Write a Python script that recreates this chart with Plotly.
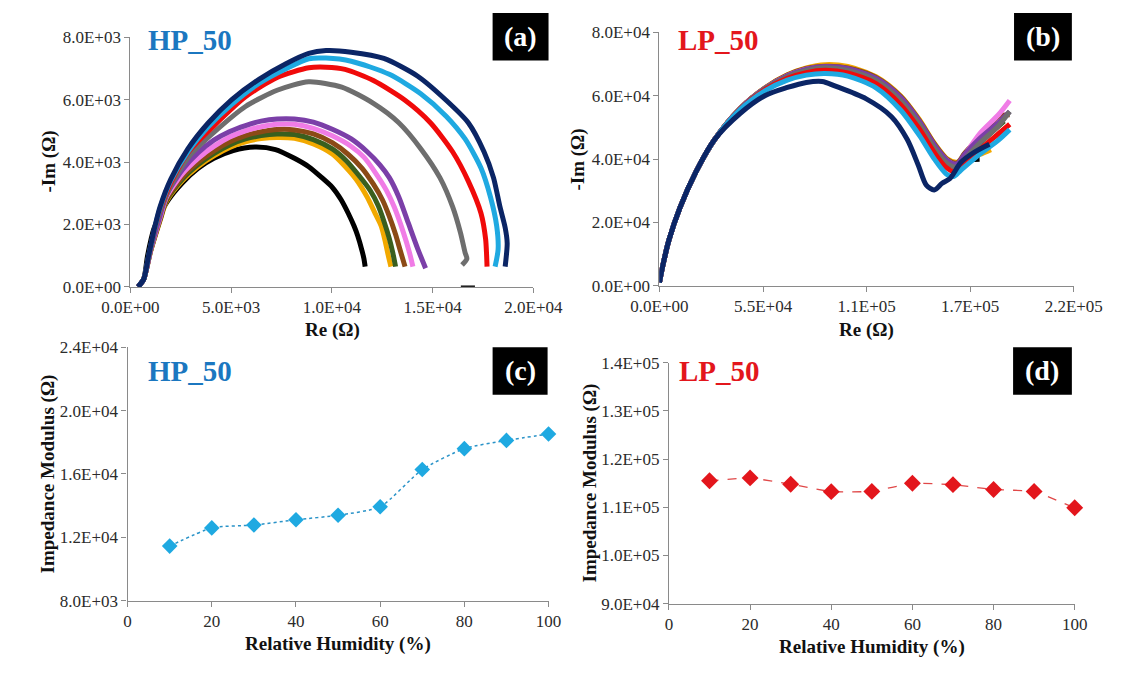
import plotly.graph_objects as go

W, H = 1136, 673

# ---------------- data ----------------
rh_levels = [10, 20, 30, 40, 50, 60, 70, 80, 90, 100]
series_colors = ["#000000", "#F2A900", "#3A5F1E", "#8B4A16", "#F07CE6",
                 "#7B3FA8", "#6E6E6E", "#F00A0A", "#1FA9E1", "#0B2565"]

# (a) HP_50 Nyquist curves, Re / -Im in ohm
hp_re = {
    10: [380, 660, 850, 1160, 1790, 2570, 3360, 4140, 5100, 6180, 7200, 8140, 8850, 9500, 10020, 10450,
         10810, 11100, 11280, 11500, 11590, 11650],
    20: [380, 660, 1000, 1470, 1790, 2570, 3360, 4140, 4930, 5710, 6490, 7280, 8140, 9080, 10020, 10600,
         11200, 11750, 12150, 12450, 12650, 12800, 12930],
    30: [380, 660, 1000, 1470, 1790, 2570, 3360, 4140, 4930, 5710, 6490, 7280, 8140, 9080, 10020, 10700,
         11300, 11910, 12300, 12610, 12850, 13020, 13160],
    40: [380, 660, 1000, 1470, 1790, 2570, 3360, 4140, 4930, 5710, 6490, 7280, 8140, 9080, 10020, 10800,
         11500, 12060, 12500, 12850, 13150, 13400, 13630],
    50: [380, 660, 1000, 1470, 1790, 2570, 3360, 4140, 4930, 5710, 6490, 7280, 8140, 9080, 10020, 10960,
         11600, 12220, 12700, 13100, 13550, 13850, 14020],
    60: [380, 660, 1000, 1470, 1790, 2570, 3360, 4140, 4930, 5710, 6490, 7280, 8140, 9080, 10020, 10960,
         11750, 12380, 12850, 13320, 13790, 14260, 14650],
    70: [380, 660, 900, 1200, 1470, 2100, 3000, 4140, 5710, 7280, 8850, 10490, 12060, 13320, 14410, 15360,
         15990, 16380, 16610, 16700, 16460],
    80: [380, 660, 900, 1200, 1470, 2000, 2890, 4140, 5710, 7280, 8850, 9710, 10650, 12060, 13630, 14890,
         15990, 16770, 17400, 17630, 17680, 17700],
    90: [380, 660, 900, 1200, 1470, 2000, 2850, 3860, 5030, 6380, 7720, 8850, 9710, 10960, 12850, 14410,
         15670, 16610, 17400, 17870, 18180, 18250, 18100],
    100: [380, 660, 900, 1200, 1470, 2000, 2850, 3860, 5030, 6380, 7720, 8850, 9710, 10960, 12580, 14260,
          15670, 16770, 17550, 18020, 18340, 18600, 18700, 18600],
}
hp_im = {
    10: [0, 250, 1000, 1850, 2700, 3330, 3800, 4120, 4370, 4480, 4400, 4120, 3850, 3500, 3190, 2800,
         2360, 1950, 1640, 1150, 900, 650],
    20: [0, 250, 1140, 2120, 2740, 3400, 3860, 4200, 4470, 4650, 4750, 4790, 4760, 4580, 4260, 3900,
         3450, 2880, 2350, 1950, 1450, 1000, 650],
    30: [0, 250, 1150, 2150, 2780, 3450, 3920, 4270, 4550, 4740, 4850, 4900, 4880, 4720, 4420, 4050,
         3600, 3080, 2600, 2050, 1550, 1100, 650],
    40: [0, 250, 1160, 2180, 2820, 3520, 4000, 4360, 4650, 4850, 4970, 5040, 5030, 4900, 4620, 4250,
         3800, 3290, 2800, 2260, 1700, 1150, 650],
    50: [0, 250, 1180, 2220, 2880, 3620, 4120, 4500, 4800, 5000, 5130, 5210, 5210, 5080, 4840, 4500,
         4150, 3600, 3100, 2550, 1740, 1100, 650],
    60: [0, 250, 1200, 2280, 2950, 3750, 4300, 4700, 4980, 5170, 5310, 5380, 5380, 5280, 5050, 4740,
         4330, 3910, 3500, 2880, 2050, 1220, 600],
    70: [0, 250, 940, 1800, 2420, 3350, 4250, 4950, 5780, 6300, 6570, 6400, 5880, 5260, 4430, 3500,
         2570, 1740, 1100, 900, 700],
    80: [0, 250, 960, 1840, 2480, 3330, 4330, 5160, 6090, 6710, 7020, 7040, 6970, 6610, 5980, 5260,
         4330, 3390, 2360, 1530, 1000, 650],
    90: [0, 250, 980, 1870, 2520, 3400, 4330, 5130, 5850, 6520, 6990, 7310, 7330, 7230, 6810, 6190,
         5470, 4740, 3810, 2880, 1950, 1200, 650],
    100: [0, 250, 1000, 1900, 2570, 3450, 4420, 5250, 6000, 6650, 7150, 7480, 7570, 7520, 7320, 6750,
          5980, 5260, 4330, 3500, 2570, 1900, 1400, 650],
}
# low-frequency points lying on the real axis
hp_axis_re = [16400, 17100]
hp_axis_im = [0, 0]

# (b) LP_50 Nyquist curves, Re / -Im in kilo-ohm
lp_rise_re = [0, 1.7, 5.0, 10.9, 19.3, 29.3]
lp_rise_im = [1.1, 6.2, 14.4, 24.7, 35.9, 46.2]
lp_re = {
    10: [42.8, 56.2, 67.9, 78.0, 88.0, 100, 115, 128, 138, 146, 153, 158, 162, 170],
    20: [42.8, 56.2, 67.9, 78.0, 88.0, 100, 115, 128, 138, 146, 153, 158, 162, 170, 176],
    30: [42.8, 56.2, 67.9, 78.0, 88.0, 100, 115, 128, 138, 146, 153, 158, 162, 170, 183],
    40: [42.8, 56.2, 67.9, 78.0, 88.0, 100, 115, 128, 138, 146, 153, 158, 162, 170, 180, 186],
    50: [42.8, 56.2, 67.9, 78.0, 88.0, 100, 115, 128, 138, 146, 153, 159, 163, 170, 180, 186],
    60: [42.8, 56.2, 67.9, 78.0, 88.0, 100, 115, 128, 138, 146, 153, 158, 162, 170, 180, 186],
    70: [42.8, 56.2, 67.9, 78.0, 88.0, 100, 115, 128, 138, 146, 153, 158, 162, 170, 180, 186],
    80: [42.8, 56.2, 67.9, 78.0, 88.0, 100, 115, 128, 138, 146, 152, 157, 161, 170, 180, 186],
    90: [42.8, 56.2, 67.9, 78.0, 88.0, 100, 115, 128, 138, 146, 152, 156, 160, 170, 180, 186],
    100: [42.8, 56.2, 67.9, 78.0, 86.4, 93.1, 109.8, 123.2, 131.6, 137.5, 141.7, 145.9, 150.1, 154.3,
          160.1, 166.9, 175.2],
}
lp_im = {
    10: [55.9, 62.4, 66.3, 68.4, 69.2, 68.6, 65.3, 59.2, 51.6, 44.0, 39.0, 38.0, 39.5, 40.0],
    20: [56.0, 62.6, 66.6, 68.8, 69.8, 69.2, 66.0, 60.0, 52.5, 45.0, 40.0, 39.0, 40.5, 41.5, 43.0],
    30: [55.9, 62.4, 66.3, 68.4, 69.0, 68.4, 65.2, 59.0, 51.5, 44.0, 39.0, 38.0, 40.5, 45.0, 52.0],
    40: [56.0, 62.5, 66.5, 68.6, 69.3, 68.8, 65.8, 59.8, 52.2, 44.8, 39.8, 38.8, 41.8, 47.0, 53.5, 54.0],
    50: [55.9, 62.4, 66.3, 68.4, 69.0, 68.4, 65.2, 59.2, 51.6, 44.0, 39.5, 38.0, 42.0, 48.0, 54.0, 58.5],
    60: [55.9, 62.4, 66.3, 68.4, 69.2, 68.6, 65.5, 59.5, 52.0, 44.5, 39.5, 38.5, 41.5, 46.5, 51.5, 55.0],
    70: [55.8, 62.3, 66.0, 68.0, 68.8, 68.0, 64.8, 58.5, 51.0, 43.5, 38.5, 37.5, 40.0, 45.0, 50.5, 55.0],
    80: [55.7, 62.0, 65.5, 67.3, 68.0, 67.2, 63.8, 57.2, 49.5, 42.0, 37.5, 36.0, 38.0, 43.0, 48.0, 51.0],
    90: [55.6, 61.6, 64.9, 66.5, 67.0, 66.2, 62.5, 55.5, 47.5, 40.0, 35.5, 34.5, 36.5, 41.5, 46.0, 49.3],
    100: [54.4, 60.1, 62.6, 64.2, 64.5, 63.1, 59.0, 53.4, 46.2, 38.0, 31.8, 30.3, 32.4, 33.9,
          39.0, 42.1, 44.7],
}

# (c), (d) impedance modulus vs relative humidity, ohm
rh = [10, 20, 30, 40, 50, 60, 70, 80, 90, 100]
hp_modulus = [11450, 12600, 12780, 13110, 13400, 13930, 16280, 17600, 18120, 18520]
lp_modulus = [115500, 116100, 114800, 113250, 113300, 115000, 114700, 113700, 113300, 109900]

# tick labels
a_xticks = [0, 5000, 10000, 15000, 20000]
a_xtext = ["0.0E+00", "5.0E+03", "1.0E+04", "1.5E+04", "2.0E+04"]
a_yticks = [0, 2000, 4000, 6000, 8000]
a_ytext = ["0.0E+00", "2.0E+03", "4.0E+03", "6.0E+03", "8.0E+03"]
b_xticks = [0, 55000, 110000, 165000, 220000]
b_xtext = ["0.0E+00", "5.5E+04", "1.1E+05", "1.7E+05", "2.2E+05"]
b_yticks = [0, 20000, 40000, 60000, 80000]
b_ytext = ["0.0E+00", "2.0E+04", "4.0E+04", "6.0E+04", "8.0E+04"]
rh_ticks = [0, 20, 40, 60, 80, 100]
rh_text = ["0", "20", "40", "60", "80", "100"]
c_yticks = [8000, 12000, 16000, 20000, 24000]
c_ytext = ["8.0E+03", "1.2E+04", "1.6E+04", "2.0E+04", "2.4E+04"]
d_yticks = [90000, 100000, 110000, 120000, 130000, 140000]
d_ytext = ["9.0E+04", "1.0E+05", "1.1E+05", "1.2E+05", "1.3E+05", "1.4E+05"]

# ---------------- drawing ----------------
SERIF = "Liberation Serif"
HP_BLUE = "#1B77C0"
LP_RED = "#E3161C"


def fx(p):
    return p / W


def fy(p):
    return 1 - p / H


fig = go.Figure()

fig.add_trace(go.Scatter(
    x=hp_axis_re, y=hp_axis_im, mode="lines", xaxis="x", yaxis="y",
    line=dict(color="#222222", width=3), showlegend=False, cliponaxis=False))

for i, lvl in enumerate(rh_levels):
    fig.add_trace(go.Scatter(
        x=hp_re[lvl], y=hp_im[lvl], mode="lines", xaxis="x", yaxis="y",
        line=dict(color=series_colors[i], width=5, shape="spline", smoothing=0.7),
        name=f"{lvl}%", showlegend=False, cliponaxis=False))

for i, lvl in enumerate(rh_levels):
    xs = [v * 1000 for v in lp_rise_re + lp_re[lvl]]
    ys = [v * 1000 for v in lp_rise_im + lp_im[lvl]]
    fig.add_trace(go.Scatter(
        x=xs, y=ys, mode="lines", xaxis="x2", yaxis="y2",
        line=dict(color=series_colors[i], width=5, shape="spline", smoothing=0.8),
        name=f"{lvl}%", showlegend=False, cliponaxis=False))

fig.add_trace(go.Scatter(
    x=rh, y=hp_modulus, mode="lines+markers", xaxis="x3", yaxis="y3",
    line=dict(color="#2A93C8", width=1.5, dash="dot", shape="spline", smoothing=0.6),
    marker=dict(symbol="diamond", size=12, color="#1FA9E1"),
    showlegend=False, cliponaxis=False))

fig.add_trace(go.Scatter(
    x=rh, y=lp_modulus, mode="lines+markers", xaxis="x4", yaxis="y4",
    line=dict(color="#E04848", width=1.3, dash="dash", shape="spline", smoothing=0.3),
    marker=dict(symbol="diamond", size=13, color=LP_RED),
    showlegend=False, cliponaxis=False))


def axis(domain, rng, vals, text, anchor):
    return dict(
        domain=domain, range=rng, tickvals=vals, ticktext=text, anchor=anchor,
        showline=True, linecolor="#8A8A8A", linewidth=1.2,
        ticks="outside", ticklen=5, tickcolor="#8A8A8A", tickwidth=1.2,
        showgrid=False, zeroline=False,
        tickfont=dict(family=SERIF, size=17, color="#2B2B2B"))


# plot areas (pixel edges: left, right, top, bottom)
pa = (107, 532, 29, 286)
pb = (665, 1102, 24, 285)
pc = (104, 548, 348, 609)
pd = (675, 1103, 364, 612)


def dom(p):
    return [fx(p[0]), fx(p[1])], [fy(p[3]), fy(p[2])]


ax_a, ay_a = dom(pa)
ax_b, ay_b = dom(pb)
ax_c, ay_c = dom(pc)
ax_d, ay_d = dom(pd)

fig.update_layout(
    width=W, height=H, margin=dict(l=0, r=0, t=0, b=0),
    paper_bgcolor="white", plot_bgcolor="white",
    xaxis=axis(ax_a, [0, 20000], a_xticks, a_xtext, "y"),
    yaxis=axis(ay_a, [0, 8000], a_yticks, a_ytext, "x"),
    xaxis2=axis(ax_b, [0, 220000], b_xticks, b_xtext, "y2"),
    yaxis2=axis(ay_b, [0, 80000], b_yticks, b_ytext, "x2"),
    xaxis3=axis(ax_c, [0, 100], rh_ticks, rh_text, "y3"),
    yaxis3=axis(ay_c, [8000, 24000], c_yticks, c_ytext, "x3"),
    xaxis4=axis(ax_d, [0, 100], rh_ticks, rh_text, "y4"),
    yaxis4=axis(ay_d, [90000, 140000], d_yticks, d_ytext, "x4"),
)

ann = []


def label(text, x, y, size, color="#111111", bold=True, angle=0, xanchor="center"):
    t = f"<b>{text}</b>" if bold else text
    ann.append(dict(text=t, x=fx(x), y=fy(y), xref="paper", yref="paper",
                    showarrow=False, xanchor=xanchor, yanchor="middle", textangle=angle,
                    font=dict(family=SERIF, size=size, color=color)))


# axis titles
label("Re (Ω)", 320, 330, 19)
label("Re (Ω)", 883, 330, 19)
label("-Im (Ω)", 21, 157, 19, angle=-90)
label("-Im (Ω)", 579, 155, 19, angle=-90)
label("Relative Humidity (%)", 326, 653, 19)
label("Relative Humidity (%)", 889, 657, 19)
label("Impedance Modulus (Ω)", 20, 478, 19, angle=-90)
label("Impedance Modulus (Ω)", 592, 488, 19, angle=-90)

# sample names
label("HP_50", 123, 32, 29, color=HP_BLUE, xanchor="left")
label("LP_50", 682, 32, 29, color=LP_RED, xanchor="left")
label("HP_50", 123, 373, 29, color=HP_BLUE, xanchor="left")
label("LP_50", 683, 373, 29, color=LP_RED, xanchor="left")

# panel tags on black boxes
shapes = []
tags = [("(a)", 489, 548, 4, 53), ("(b)", 1039, 1100, 4, 53),
        ("(c)", 489, 547, 348, 397), ("(d)", 1038, 1100, 348, 397)]
for txt, x0, x1, y0, y1 in tags:
    shapes.append(dict(type="rect", xref="paper", yref="paper",
                       x0=fx(x0), x1=fx(x1), y0=fy(y1), y1=fy(y0),
                       fillcolor="black", line=dict(width=0)))
    label(txt, (x0 + x1) / 2, (y0 + y1) / 2, 28, color="white")

fig.update_layout(annotations=ann, shapes=shapes)
fig.write_html("out.html")
